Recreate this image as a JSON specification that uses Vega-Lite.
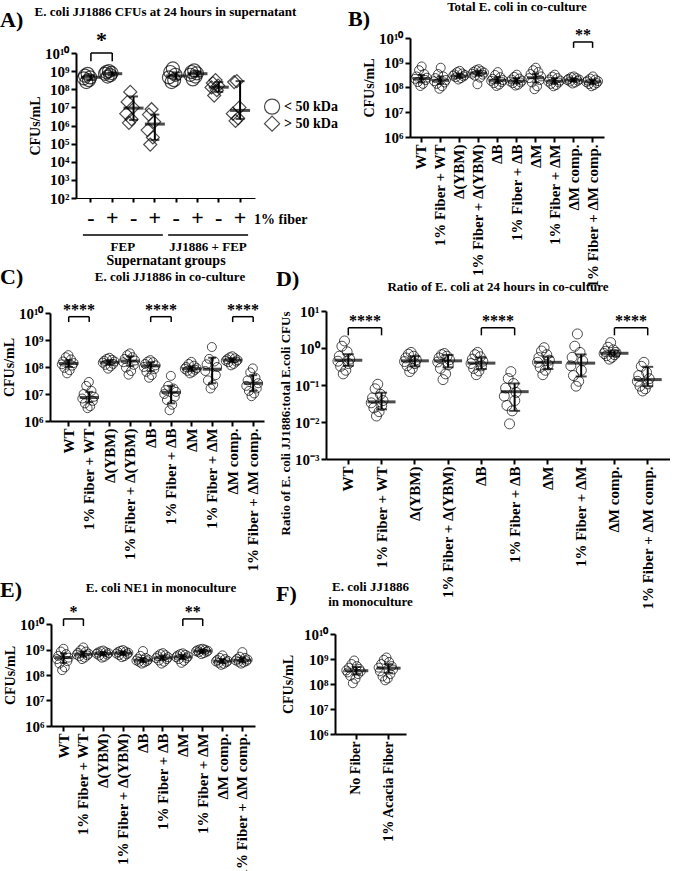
{
"$schema":"https://vega.github.io/schema/vega-lite/v6.json",
"background":"white",
"padding":{"left":0,"top":0,"right":0,"bottom":0},
"config":{
"font":"Liberation Serif",
"view":{"stroke":null},
"axis":{"labelFont":"Liberation Serif","labelFontWeight":"bold","labelFontSize":15,"labelColor":"#000","titleFont":"Liberation Serif","titleFontWeight":"bold","titleFontSize":14,"titleColor":"#000","domainColor":"#000","domainWidth":2,"tickColor":"#000","tickWidth":2,"tickSize":5,"grid":false,"labelPadding":2,"titlePadding":2},
"title":{"font":"Liberation Serif","fontWeight":"bold","fontSize":13,"color":"#000"},
"text":{"font":"Liberation Serif","fontWeight":"bold","color":"#000"}
},
"datasets":{
"A":[
{"c":"FEP, < 50 kDa, -","f":"< 50 kDa","r":3,"v":2.5e8},{"c":"FEP, < 50 kDa, -","f":"< 50 kDa","r":5,"v":3.2e8},{"c":"FEP, < 50 kDa, -","f":"< 50 kDa","r":1,"v":4.0e8},{"c":"FEP, < 50 kDa, -","f":"< 50 kDa","r":6,"v":4.5e8},{"c":"FEP, < 50 kDa, -","f":"< 50 kDa","r":2,"v":5.6e8},{"c":"FEP, < 50 kDa, -","f":"< 50 kDa","r":4,"v":7.1e8},
{"c":"FEP, < 50 kDa, +","f":"< 50 kDa","r":3,"v":5.0e8},{"c":"FEP, < 50 kDa, +","f":"< 50 kDa","r":5,"v":6.0e8},{"c":"FEP, < 50 kDa, +","f":"< 50 kDa","r":1,"v":7.1e8},{"c":"FEP, < 50 kDa, +","f":"< 50 kDa","r":6,"v":7.9e8},{"c":"FEP, < 50 kDa, +","f":"< 50 kDa","r":2,"v":8.9e8},{"c":"FEP, < 50 kDa, +","f":"< 50 kDa","r":4,"v":1.0e9},
{"c":"FEP, > 50 kDa, -","f":"> 50 kDa","r":3,"v":1.4e6},{"c":"FEP, > 50 kDa, -","f":"> 50 kDa","r":5,"v":2.2e6},{"c":"FEP, > 50 kDa, -","f":"> 50 kDa","r":1,"v":4.5e6},{"c":"FEP, > 50 kDa, -","f":"> 50 kDa","r":6,"v":1.0e7},{"c":"FEP, > 50 kDa, -","f":"> 50 kDa","r":2,"v":2.0e7},{"c":"FEP, > 50 kDa, -","f":"> 50 kDa","r":4,"v":7.1e7},
{"c":"FEP, > 50 kDa, +","f":"> 50 kDa","r":3,"v":8.9e4},{"c":"FEP, > 50 kDa, +","f":"> 50 kDa","r":5,"v":2.2e5},{"c":"FEP, > 50 kDa, +","f":"> 50 kDa","r":1,"v":5.6e5},{"c":"FEP, > 50 kDa, +","f":"> 50 kDa","r":6,"v":1.6e6},{"c":"FEP, > 50 kDa, +","f":"> 50 kDa","r":2,"v":4.0e6},{"c":"FEP, > 50 kDa, +","f":"> 50 kDa","r":4,"v":7.9e6},
{"c":"JJ1886 + FEP, < 50 kDa, -","f":"< 50 kDa","r":3,"v":2.5e8},{"c":"JJ1886 + FEP, < 50 kDa, -","f":"< 50 kDa","r":5,"v":3.2e8},{"c":"JJ1886 + FEP, < 50 kDa, -","f":"< 50 kDa","r":1,"v":4.5e8},{"c":"JJ1886 + FEP, < 50 kDa, -","f":"< 50 kDa","r":6,"v":6.3e8},{"c":"JJ1886 + FEP, < 50 kDa, -","f":"< 50 kDa","r":2,"v":8.9e8},{"c":"JJ1886 + FEP, < 50 kDa, -","f":"< 50 kDa","r":4,"v":1.4e9},
{"c":"JJ1886 + FEP, < 50 kDa, +","f":"< 50 kDa","r":3,"v":3.5e8},{"c":"JJ1886 + FEP, < 50 kDa, +","f":"< 50 kDa","r":5,"v":5.0e8},{"c":"JJ1886 + FEP, < 50 kDa, +","f":"< 50 kDa","r":1,"v":6.3e8},{"c":"JJ1886 + FEP, < 50 kDa, +","f":"< 50 kDa","r":6,"v":7.6e8},{"c":"JJ1886 + FEP, < 50 kDa, +","f":"< 50 kDa","r":2,"v":8.9e8},{"c":"JJ1886 + FEP, < 50 kDa, +","f":"< 50 kDa","r":4,"v":1.1e9},
{"c":"JJ1886 + FEP, > 50 kDa, -","f":"> 50 kDa","r":3,"v":4.5e7},{"c":"JJ1886 + FEP, > 50 kDa, -","f":"> 50 kDa","r":5,"v":8.9e7},{"c":"JJ1886 + FEP, > 50 kDa, -","f":"> 50 kDa","r":1,"v":1.26e8},{"c":"JJ1886 + FEP, > 50 kDa, -","f":"> 50 kDa","r":6,"v":1.6e8},{"c":"JJ1886 + FEP, > 50 kDa, -","f":"> 50 kDa","r":2,"v":2.2e8},{"c":"JJ1886 + FEP, > 50 kDa, -","f":"> 50 kDa","r":4,"v":3.2e8},
{"c":"JJ1886 + FEP, > 50 kDa, +","f":"> 50 kDa","r":3,"v":1.8e6},{"c":"JJ1886 + FEP, > 50 kDa, +","f":"> 50 kDa","r":5,"v":2.5e6},{"c":"JJ1886 + FEP, > 50 kDa, +","f":"> 50 kDa","r":1,"v":4.5e6},{"c":"JJ1886 + FEP, > 50 kDa, +","f":"> 50 kDa","r":6,"v":1.0e7},{"c":"JJ1886 + FEP, > 50 kDa, +","f":"> 50 kDa","r":2,"v":2.5e8},{"c":"JJ1886 + FEP, > 50 kDa, +","f":"> 50 kDa","r":4,"v":2.8e8}
],
"As":[
{"c":"FEP, < 50 kDa, -","m":4.6e8,"lo":3.2e8,"hi":6.0e8},
{"c":"FEP, < 50 kDa, +","m":7.2e8,"lo":5.8e8,"hi":8.6e8},
{"c":"FEP, > 50 kDa, -","m":9.1e6,"lo":2.0e6,"hi":4.0e7},
{"c":"FEP, > 50 kDa, +","m":1.2e6,"lo":1.6e5,"hi":4.0e6},
{"c":"JJ1886 + FEP, < 50 kDa, -","m":5.4e8,"lo":3.5e8,"hi":8.5e8},
{"c":"JJ1886 + FEP, < 50 kDa, +","m":7.2e8,"lo":5.0e8,"hi":9.5e8},
{"c":"JJ1886 + FEP, > 50 kDa, -","m":1.3e8,"lo":7.1e7,"hi":2.5e8},
{"c":"JJ1886 + FEP, > 50 kDa, +","m":6.8e6,"lo":2.3e6,"hi":2.8e8}
],
"Ab":[{"a":"FEP, < 50 kDa, -","b":"FEP, < 50 kDa, +","s":"*"}],
"Ag":[{"a":"FEP, < 50 kDa, -","b":"FEP, > 50 kDa, +","m":"FEP, < 50 kDa, +","t":"FEP"},{"a":"JJ1886 + FEP, < 50 kDa, -","b":"JJ1886 + FEP, > 50 kDa, +","m":"JJ1886 + FEP, < 50 kDa, +","t":"JJ1886 + FEP"}],
"Af":[{"t":"1% fiber"}],
"Al1":[{"t":"< 50 kDa"}],
"Al2":[{"t":"> 50 kDa"}],
"B":[
{"g":"WT","r":5,"v":1.15e8},{"g":"WT","r":7,"v":1.4e8},{"g":"WT","r":3,"v":1.66e8},{"g":"WT","r":9,"v":2.0e8},{"g":"WT","r":1,"v":2.24e8},{"g":"WT","r":10,"v":2.5e8},{"g":"WT","r":2,"v":2.8e8},{"g":"WT","r":8,"v":3.5e8},{"g":"WT","r":4,"v":5.0e8},{"g":"WT","r":6,"v":7.1e8},
{"g":"1% Fiber + WT","r":5,"v":8.9e7},{"g":"1% Fiber + WT","r":7,"v":1.12e8},{"g":"1% Fiber + WT","r":3,"v":1.4e8},{"g":"1% Fiber + WT","r":9,"v":1.6e8},{"g":"1% Fiber + WT","r":1,"v":1.8e8},{"g":"1% Fiber + WT","r":10,"v":2.0e8},{"g":"1% Fiber + WT","r":2,"v":2.4e8},{"g":"1% Fiber + WT","r":8,"v":2.8e8},{"g":"1% Fiber + WT","r":4,"v":3.5e8},{"g":"1% Fiber + WT","r":6,"v":6.3e8},
{"g":"Δ(YBM)","r":5,"v":2.1e8},{"g":"Δ(YBM)","r":7,"v":2.4e8},{"g":"Δ(YBM)","r":3,"v":2.6e8},{"g":"Δ(YBM)","r":9,"v":2.8e8},{"g":"Δ(YBM)","r":1,"v":3.0e8},{"g":"Δ(YBM)","r":10,"v":3.2e8},{"g":"Δ(YBM)","r":2,"v":3.4e8},{"g":"Δ(YBM)","r":8,"v":3.7e8},{"g":"Δ(YBM)","r":4,"v":4.2e8},{"g":"Δ(YBM)","r":6,"v":4.7e8},
{"g":"1% Fiber + Δ(YBM)","r":5,"v":1.35e8},{"g":"1% Fiber + Δ(YBM)","r":7,"v":2.5e8},{"g":"1% Fiber + Δ(YBM)","r":3,"v":3.0e8},{"g":"1% Fiber + Δ(YBM)","r":9,"v":3.3e8},{"g":"1% Fiber + Δ(YBM)","r":1,"v":3.6e8},{"g":"1% Fiber + Δ(YBM)","r":10,"v":4.0e8},{"g":"1% Fiber + Δ(YBM)","r":2,"v":4.3e8},{"g":"1% Fiber + Δ(YBM)","r":8,"v":4.6e8},{"g":"1% Fiber + Δ(YBM)","r":4,"v":5.0e8},{"g":"1% Fiber + Δ(YBM)","r":6,"v":5.5e8},
{"g":"ΔB","r":5,"v":1.15e8},{"g":"ΔB","r":7,"v":1.3e8},{"g":"ΔB","r":3,"v":1.5e8},{"g":"ΔB","r":9,"v":1.66e8},{"g":"ΔB","r":1,"v":1.86e8},{"g":"ΔB","r":10,"v":2.0e8},{"g":"ΔB","r":2,"v":2.24e8},{"g":"ΔB","r":8,"v":2.6e8},{"g":"ΔB","r":4,"v":3.2e8},{"g":"ΔB","r":6,"v":4.2e8},
{"g":"1% Fiber + ΔB","r":5,"v":1.2e8},{"g":"1% Fiber + ΔB","r":7,"v":1.3e8},{"g":"1% Fiber + ΔB","r":3,"v":1.5e8},{"g":"1% Fiber + ΔB","r":9,"v":1.6e8},{"g":"1% Fiber + ΔB","r":1,"v":1.74e8},{"g":"1% Fiber + ΔB","r":10,"v":1.9e8},{"g":"1% Fiber + ΔB","r":2,"v":2.1e8},{"g":"1% Fiber + ΔB","r":8,"v":2.3e8},{"g":"1% Fiber + ΔB","r":4,"v":2.7e8},{"g":"1% Fiber + ΔB","r":6,"v":3.3e8},
{"g":"ΔM","r":5,"v":8.5e7},{"g":"ΔM","r":7,"v":1.12e8},{"g":"ΔM","r":3,"v":1.6e8},{"g":"ΔM","r":9,"v":2.0e8},{"g":"ΔM","r":1,"v":2.4e8},{"g":"ΔM","r":10,"v":2.8e8},{"g":"ΔM","r":2,"v":3.5e8},{"g":"ΔM","r":8,"v":4.2e8},{"g":"ΔM","r":4,"v":5.0e8},{"g":"ΔM","r":6,"v":6.3e8},
{"g":"1% Fiber + ΔM","r":5,"v":1.12e8},{"g":"1% Fiber + ΔM","r":7,"v":1.26e8},{"g":"1% Fiber + ΔM","r":3,"v":1.4e8},{"g":"1% Fiber + ΔM","r":9,"v":1.6e8},{"g":"1% Fiber + ΔM","r":1,"v":1.74e8},{"g":"1% Fiber + ΔM","r":10,"v":1.9e8},{"g":"1% Fiber + ΔM","r":2,"v":2.1e8},{"g":"1% Fiber + ΔM","r":8,"v":2.4e8},{"g":"1% Fiber + ΔM","r":4,"v":2.75e8},{"g":"1% Fiber + ΔM","r":6,"v":3.3e8},
{"g":"ΔM comp.","r":5,"v":1.45e8},{"g":"ΔM comp.","r":7,"v":1.6e8},{"g":"ΔM comp.","r":3,"v":1.74e8},{"g":"ΔM comp.","r":9,"v":1.86e8},{"g":"ΔM comp.","r":1,"v":2.0e8},{"g":"ΔM comp.","r":10,"v":2.1e8},{"g":"ΔM comp.","r":2,"v":2.24e8},{"g":"ΔM comp.","r":8,"v":2.4e8},{"g":"ΔM comp.","r":4,"v":2.6e8},{"g":"ΔM comp.","r":6,"v":2.8e8},
{"g":"1% Fiber + ΔM comp.","r":5,"v":1.12e8},{"g":"1% Fiber + ΔM comp.","r":7,"v":1.26e8},{"g":"1% Fiber + ΔM comp.","r":3,"v":1.38e8},{"g":"1% Fiber + ΔM comp.","r":9,"v":1.5e8},{"g":"1% Fiber + ΔM comp.","r":1,"v":1.66e8},{"g":"1% Fiber + ΔM comp.","r":10,"v":1.8e8},{"g":"1% Fiber + ΔM comp.","r":2,"v":1.9e8},{"g":"1% Fiber + ΔM comp.","r":8,"v":2.1e8},{"g":"1% Fiber + ΔM comp.","r":4,"v":2.3e8},{"g":"1% Fiber + ΔM comp.","r":6,"v":2.8e8}
],
"Bs":[
{"g":"WT","m":2.3e8,"lo":1.6e8,"hi":3.2e8},{"g":"1% Fiber + WT","m":1.95e8,"lo":1.4e8,"hi":2.8e8},{"g":"Δ(YBM)","m":2.9e8,"lo":2.4e8,"hi":3.6e8},{"g":"1% Fiber + Δ(YBM)","m":3.8e8,"lo":3.0e8,"hi":4.8e8},{"g":"ΔB","m":1.95e8,"lo":1.5e8,"hi":2.6e8},{"g":"1% Fiber + ΔB","m":1.8e8,"lo":1.45e8,"hi":2.4e8},{"g":"ΔM","m":2.5e8,"lo":1.6e8,"hi":3.6e8},{"g":"1% Fiber + ΔM","m":1.8e8,"lo":1.4e8,"hi":2.4e8},{"g":"ΔM comp.","m":2.0e8,"lo":1.75e8,"hi":2.3e8},{"g":"1% Fiber + ΔM comp.","m":1.7e8,"lo":1.35e8,"hi":2.1e8}
],
"Bb":[{"a":"ΔM comp.","b":"1% Fiber + ΔM comp.","s":"**"}],
"C":[
{"g":"WT","r":5,"v":5.8e7},{"g":"WT","r":7,"v":7.6e7},{"g":"WT","r":3,"v":9.3e7},{"g":"WT","r":9,"v":1.12e8},{"g":"WT","r":1,"v":1.26e8},{"g":"WT","r":10,"v":1.4e8},{"g":"WT","r":2,"v":1.6e8},{"g":"WT","r":8,"v":1.9e8},{"g":"WT","r":4,"v":2.3e8},{"g":"WT","r":6,"v":2.75e8},
{"g":"1% Fiber + WT","r":5,"v":3.0e6},{"g":"1% Fiber + WT","r":7,"v":3.5e6},{"g":"1% Fiber + WT","r":3,"v":4.5e6},{"g":"1% Fiber + WT","r":9,"v":5.6e6},{"g":"1% Fiber + WT","r":1,"v":6.8e6},{"g":"1% Fiber + WT","r":10,"v":7.9e6},{"g":"1% Fiber + WT","r":2,"v":1.0e7},{"g":"1% Fiber + WT","r":8,"v":1.3e7},{"g":"1% Fiber + WT","r":4,"v":2.0e7},{"g":"1% Fiber + WT","r":6,"v":2.8e7},
{"g":"Δ(YBM)","r":5,"v":8.7e7},{"g":"Δ(YBM)","r":7,"v":1.05e8},{"g":"Δ(YBM)","r":3,"v":1.2e8},{"g":"Δ(YBM)","r":9,"v":1.3e8},{"g":"Δ(YBM)","r":1,"v":1.45e8},{"g":"Δ(YBM)","r":10,"v":1.6e8},{"g":"Δ(YBM)","r":2,"v":1.7e8},{"g":"Δ(YBM)","r":8,"v":1.86e8},{"g":"Δ(YBM)","r":4,"v":2.0e8},{"g":"Δ(YBM)","r":6,"v":2.2e8},
{"g":"1% Fiber + Δ(YBM)","r":5,"v":5.2e7},{"g":"1% Fiber + Δ(YBM)","r":7,"v":7.1e7},{"g":"1% Fiber + Δ(YBM)","r":3,"v":9.5e7},{"g":"1% Fiber + Δ(YBM)","r":9,"v":1.2e8},{"g":"1% Fiber + Δ(YBM)","r":1,"v":1.5e8},{"g":"1% Fiber + Δ(YBM)","r":10,"v":1.74e8},{"g":"1% Fiber + Δ(YBM)","r":2,"v":2.0e8},{"g":"1% Fiber + Δ(YBM)","r":8,"v":2.3e8},{"g":"1% Fiber + Δ(YBM)","r":4,"v":2.75e8},{"g":"1% Fiber + Δ(YBM)","r":6,"v":3.2e8},
{"g":"ΔB","r":5,"v":4.0e7},{"g":"ΔB","r":7,"v":5.0e7},{"g":"ΔB","r":3,"v":6.6e7},{"g":"ΔB","r":9,"v":8.3e7},{"g":"ΔB","r":1,"v":1.0e8},{"g":"ΔB","r":10,"v":1.15e8},{"g":"ΔB","r":2,"v":1.3e8},{"g":"ΔB","r":8,"v":1.5e8},{"g":"ΔB","r":4,"v":1.6e8},{"g":"ΔB","r":6,"v":1.8e8},
{"g":"1% Fiber + ΔB","r":5,"v":2.5e6},{"g":"1% Fiber + ΔB","r":7,"v":4.0e6},{"g":"1% Fiber + ΔB","r":3,"v":6.0e6},{"g":"1% Fiber + ΔB","r":9,"v":7.9e6},{"g":"1% Fiber + ΔB","r":1,"v":1.0e7},{"g":"1% Fiber + ΔB","r":10,"v":1.2e7},{"g":"1% Fiber + ΔB","r":2,"v":1.4e7},{"g":"1% Fiber + ΔB","r":8,"v":1.6e7},{"g":"1% Fiber + ΔB","r":4,"v":2.0e7},{"g":"1% Fiber + ΔB","r":6,"v":4.7e7},
{"g":"ΔM","r":5,"v":5.8e7},{"g":"ΔM","r":7,"v":6.6e7},{"g":"ΔM","r":3,"v":7.2e7},{"g":"ΔM","r":9,"v":7.9e7},{"g":"ΔM","r":1,"v":8.5e7},{"g":"ΔM","r":10,"v":9.1e7},{"g":"ΔM","r":2,"v":1.0e8},{"g":"ΔM","r":8,"v":1.12e8},{"g":"ΔM","r":4,"v":1.3e8},{"g":"ΔM","r":6,"v":1.55e8},
{"g":"1% Fiber + ΔM","r":5,"v":1.6e7},{"g":"1% Fiber + ΔM","r":7,"v":2.2e7},{"g":"1% Fiber + ΔM","r":3,"v":3.2e7},{"g":"1% Fiber + ΔM","r":9,"v":5.0e7},{"g":"1% Fiber + ΔM","r":1,"v":7.1e7},{"g":"1% Fiber + ΔM","r":10,"v":1.0e8},{"g":"1% Fiber + ΔM","r":2,"v":1.26e8},{"g":"1% Fiber + ΔM","r":8,"v":1.6e8},{"g":"1% Fiber + ΔM","r":4,"v":2.0e8},{"g":"1% Fiber + ΔM","r":6,"v":5.5e8},
{"g":"ΔM comp.","r":5,"v":1.15e8},{"g":"ΔM comp.","r":7,"v":1.3e8},{"g":"ΔM comp.","r":3,"v":1.5e8},{"g":"ΔM comp.","r":9,"v":1.6e8},{"g":"ΔM comp.","r":1,"v":1.7e8},{"g":"ΔM comp.","r":10,"v":1.8e8},{"g":"ΔM comp.","r":2,"v":1.95e8},{"g":"ΔM comp.","r":8,"v":2.1e8},{"g":"ΔM comp.","r":4,"v":2.3e8},{"g":"ΔM comp.","r":6,"v":2.5e8},
{"g":"1% Fiber + ΔM comp.","r":5,"v":8.3e6},{"g":"1% Fiber + ΔM comp.","r":7,"v":1.05e7},{"g":"1% Fiber + ΔM comp.","r":3,"v":1.3e7},{"g":"1% Fiber + ΔM comp.","r":9,"v":1.6e7},{"g":"1% Fiber + ΔM comp.","r":1,"v":2.0e7},{"g":"1% Fiber + ΔM comp.","r":10,"v":2.5e7},{"g":"1% Fiber + ΔM comp.","r":2,"v":3.2e7},{"g":"1% Fiber + ΔM comp.","r":8,"v":4.0e7},{"g":"1% Fiber + ΔM comp.","r":4,"v":6.3e7},{"g":"1% Fiber + ΔM comp.","r":6,"v":8.9e7}
],
"Cs":[
{"g":"WT","m":1.35e8,"lo":1.0e8,"hi":1.8e8},{"g":"1% Fiber + WT","m":7.4e6,"lo":5.0e6,"hi":1.2e7},{"g":"Δ(YBM)","m":1.5e8,"lo":1.2e8,"hi":1.8e8},{"g":"1% Fiber + Δ(YBM)","m":1.66e8,"lo":1.1e8,"hi":2.5e8},{"g":"ΔB","m":1.1e8,"lo":7.0e7,"hi":1.5e8},{"g":"1% Fiber + ΔB","m":1.15e7,"lo":4.5e6,"hi":2.0e7},{"g":"ΔM","m":8.7e7,"lo":7.0e7,"hi":1.05e8},{"g":"1% Fiber + ΔM","m":8.3e7,"lo":2.5e7,"hi":2.2e8},{"g":"ΔM comp.","m":1.8e8,"lo":1.5e8,"hi":2.1e8},{"g":"1% Fiber + ΔM comp.","m":2.5e7,"lo":1.3e7,"hi":5.0e7}
],
"Cb":[{"a":"WT","b":"1% Fiber + WT","s":"****"},{"a":"ΔB","b":"1% Fiber + ΔB","s":"****"},{"a":"ΔM comp.","b":"1% Fiber + ΔM comp.","s":"****"}],
"D":[
{"g":"WT","r":5,"v":0.2},{"g":"WT","r":7,"v":0.25},{"g":"WT","r":3,"v":0.32},{"g":"WT","r":9,"v":0.38},{"g":"WT","r":1,"v":0.44},{"g":"WT","r":10,"v":0.5},{"g":"WT","r":2,"v":0.6},{"g":"WT","r":8,"v":0.79},{"g":"WT","r":4,"v":1.12},{"g":"WT","r":6,"v":1.55},
{"g":"1% Fiber + WT","r":5,"v":0.0145},{"g":"1% Fiber + WT","r":7,"v":0.019},{"g":"1% Fiber + WT","r":3,"v":0.024},{"g":"1% Fiber + WT","r":9,"v":0.028},{"g":"1% Fiber + WT","r":1,"v":0.033},{"g":"1% Fiber + WT","r":10,"v":0.038},{"g":"1% Fiber + WT","r":2,"v":0.045},{"g":"1% Fiber + WT","r":8,"v":0.056},{"g":"1% Fiber + WT","r":4,"v":0.079},{"g":"1% Fiber + WT","r":6,"v":0.105},
{"g":"Δ(YBM)","r":5,"v":0.23},{"g":"Δ(YBM)","r":7,"v":0.28},{"g":"Δ(YBM)","r":3,"v":0.33},{"g":"Δ(YBM)","r":9,"v":0.38},{"g":"Δ(YBM)","r":1,"v":0.43},{"g":"Δ(YBM)","r":10,"v":0.48},{"g":"Δ(YBM)","r":2,"v":0.54},{"g":"Δ(YBM)","r":8,"v":0.6},{"g":"Δ(YBM)","r":4,"v":0.68},{"g":"Δ(YBM)","r":6,"v":0.76},
{"g":"1% Fiber + Δ(YBM)","r":5,"v":0.14},{"g":"1% Fiber + Δ(YBM)","r":7,"v":0.2},{"g":"1% Fiber + Δ(YBM)","r":3,"v":0.28},{"g":"1% Fiber + Δ(YBM)","r":9,"v":0.35},{"g":"1% Fiber + Δ(YBM)","r":1,"v":0.42},{"g":"1% Fiber + Δ(YBM)","r":10,"v":0.48},{"g":"1% Fiber + Δ(YBM)","r":2,"v":0.54},{"g":"1% Fiber + Δ(YBM)","r":8,"v":0.6},{"g":"1% Fiber + Δ(YBM)","r":4,"v":0.66},{"g":"1% Fiber + Δ(YBM)","r":6,"v":0.71},
{"g":"ΔB","r":5,"v":0.19},{"g":"ΔB","r":7,"v":0.24},{"g":"ΔB","r":3,"v":0.28},{"g":"ΔB","r":9,"v":0.33},{"g":"ΔB","r":1,"v":0.38},{"g":"ΔB","r":10,"v":0.44},{"g":"ΔB","r":2,"v":0.5},{"g":"ΔB","r":8,"v":0.58},{"g":"ΔB","r":4,"v":0.66},{"g":"ΔB","r":6,"v":0.76},
{"g":"1% Fiber + ΔB","r":5,"v":0.0089},{"g":"1% Fiber + ΔB","r":7,"v":0.02},{"g":"1% Fiber + ΔB","r":3,"v":0.028},{"g":"1% Fiber + ΔB","r":9,"v":0.038},{"g":"1% Fiber + ΔB","r":1,"v":0.05},{"g":"1% Fiber + ΔB","r":10,"v":0.063},{"g":"1% Fiber + ΔB","r":2,"v":0.083},{"g":"1% Fiber + ΔB","r":8,"v":0.11},{"g":"1% Fiber + ΔB","r":4,"v":0.15},{"g":"1% Fiber + ΔB","r":6,"v":0.23},
{"g":"ΔM","r":5,"v":0.19},{"g":"ΔM","r":7,"v":0.25},{"g":"ΔM","r":3,"v":0.3},{"g":"ΔM","r":9,"v":0.35},{"g":"ΔM","r":1,"v":0.41},{"g":"ΔM","r":10,"v":0.47},{"g":"ΔM","r":2,"v":0.55},{"g":"ΔM","r":8,"v":0.66},{"g":"ΔM","r":4,"v":0.83},{"g":"ΔM","r":6,"v":1.02},
{"g":"1% Fiber + ΔM","r":5,"v":0.093},{"g":"1% Fiber + ΔM","r":7,"v":0.126},{"g":"1% Fiber + ΔM","r":3,"v":0.18},{"g":"1% Fiber + ΔM","r":9,"v":0.25},{"g":"1% Fiber + ΔM","r":1,"v":0.33},{"g":"1% Fiber + ΔM","r":10,"v":0.45},{"g":"1% Fiber + ΔM","r":2,"v":0.56},{"g":"1% Fiber + ΔM","r":8,"v":0.76},{"g":"1% Fiber + ΔM","r":4,"v":1.12},{"g":"1% Fiber + ΔM","r":6,"v":2.4},
{"g":"ΔM comp.","r":5,"v":0.5},{"g":"ΔM comp.","r":7,"v":0.56},{"g":"ΔM comp.","r":3,"v":0.62},{"g":"ΔM comp.","r":9,"v":0.66},{"g":"ΔM comp.","r":1,"v":0.71},{"g":"ΔM comp.","r":10,"v":0.76},{"g":"ΔM comp.","r":2,"v":0.81},{"g":"ΔM comp.","r":8,"v":0.89},{"g":"ΔM comp.","r":4,"v":1.05},{"g":"ΔM comp.","r":6,"v":1.4},
{"g":"1% Fiber + ΔM comp.","r":5,"v":0.069},{"g":"1% Fiber + ΔM comp.","r":7,"v":0.079},{"g":"1% Fiber + ΔM comp.","r":3,"v":0.093},{"g":"1% Fiber + ΔM comp.","r":9,"v":0.107},{"g":"1% Fiber + ΔM comp.","r":1,"v":0.126},{"g":"1% Fiber + ΔM comp.","r":10,"v":0.148},{"g":"1% Fiber + ΔM comp.","r":2,"v":0.18},{"g":"1% Fiber + ΔM comp.","r":8,"v":0.22},{"g":"1% Fiber + ΔM comp.","r":4,"v":0.32},{"g":"1% Fiber + ΔM comp.","r":6,"v":0.41}
],
"Ds":[
{"g":"WT","m":0.47,"lo":0.33,"hi":0.68},{"g":"1% Fiber + WT","m":0.035,"lo":0.022,"hi":0.062},{"g":"Δ(YBM)","m":0.45,"lo":0.32,"hi":0.6},{"g":"1% Fiber + Δ(YBM)","m":0.45,"lo":0.3,"hi":0.65},{"g":"ΔB","m":0.39,"lo":0.27,"hi":0.55},{"g":"1% Fiber + ΔB","m":0.066,"lo":0.02,"hi":0.11},{"g":"ΔM","m":0.41,"lo":0.27,"hi":0.58},{"g":"1% Fiber + ΔM","m":0.39,"lo":0.17,"hi":0.67},{"g":"ΔM comp.","m":0.72,"lo":0.6,"hi":0.85},{"g":"1% Fiber + ΔM comp.","m":0.14,"lo":0.093,"hi":0.31}
],
"Db":[{"a":"WT","b":"1% Fiber + WT","s":"****"},{"a":"ΔB","b":"1% Fiber + ΔB","s":"****"},{"a":"ΔM comp.","b":"1% Fiber + ΔM comp.","s":"****"}],
"E":[
{"g":"WT","r":5,"v":1.55e8},{"g":"WT","r":7,"v":2.0e8},{"g":"WT","r":3,"v":2.8e8},{"g":"WT","r":9,"v":3.5e8},{"g":"WT","r":1,"v":4.2e8},{"g":"WT","r":10,"v":4.8e8},{"g":"WT","r":2,"v":5.6e8},{"g":"WT","r":8,"v":6.6e8},{"g":"WT","r":4,"v":8.3e8},{"g":"WT","r":6,"v":1.07e9},
{"g":"1% Fiber + WT","r":5,"v":4.2e8},{"g":"1% Fiber + WT","r":7,"v":4.8e8},{"g":"1% Fiber + WT","r":3,"v":5.4e8},{"g":"1% Fiber + WT","r":9,"v":5.9e8},{"g":"1% Fiber + WT","r":1,"v":6.3e8},{"g":"1% Fiber + WT","r":10,"v":6.8e8},{"g":"1% Fiber + WT","r":2,"v":7.4e8},{"g":"1% Fiber + WT","r":8,"v":8.3e8},{"g":"1% Fiber + WT","r":4,"v":9.5e8},{"g":"1% Fiber + WT","r":6,"v":1.2e9},
{"g":"Δ(YBM)","r":5,"v":4.8e8},{"g":"Δ(YBM)","r":7,"v":5.2e8},{"g":"Δ(YBM)","r":3,"v":5.8e8},{"g":"Δ(YBM)","r":9,"v":6.3e8},{"g":"Δ(YBM)","r":1,"v":6.8e8},{"g":"Δ(YBM)","r":10,"v":7.2e8},{"g":"Δ(YBM)","r":2,"v":7.6e8},{"g":"Δ(YBM)","r":8,"v":7.9e8},{"g":"Δ(YBM)","r":4,"v":8.5e8},{"g":"Δ(YBM)","r":6,"v":9.1e8},
{"g":"1% Fiber + Δ(YBM)","r":5,"v":5.0e8},{"g":"1% Fiber + Δ(YBM)","r":7,"v":5.5e8},{"g":"1% Fiber + Δ(YBM)","r":3,"v":6.0e8},{"g":"1% Fiber + Δ(YBM)","r":9,"v":6.5e8},{"g":"1% Fiber + Δ(YBM)","r":1,"v":6.9e8},{"g":"1% Fiber + Δ(YBM)","r":10,"v":7.4e8},{"g":"1% Fiber + Δ(YBM)","r":2,"v":7.9e8},{"g":"1% Fiber + Δ(YBM)","r":8,"v":8.3e8},{"g":"1% Fiber + Δ(YBM)","r":4,"v":8.9e8},{"g":"1% Fiber + Δ(YBM)","r":6,"v":9.5e8},
{"g":"ΔB","r":5,"v":2.8e8},{"g":"ΔB","r":7,"v":3.1e8},{"g":"ΔB","r":3,"v":3.3e8},{"g":"ΔB","r":9,"v":3.5e8},{"g":"ΔB","r":1,"v":3.7e8},{"g":"ΔB","r":10,"v":4.0e8},{"g":"ΔB","r":2,"v":4.3e8},{"g":"ΔB","r":8,"v":4.7e8},{"g":"ΔB","r":4,"v":5.6e8},{"g":"ΔB","r":6,"v":8.7e8},
{"g":"1% Fiber + ΔB","r":5,"v":2.8e8},{"g":"1% Fiber + ΔB","r":7,"v":3.3e8},{"g":"1% Fiber + ΔB","r":3,"v":3.7e8},{"g":"1% Fiber + ΔB","r":9,"v":4.2e8},{"g":"1% Fiber + ΔB","r":1,"v":4.6e8},{"g":"1% Fiber + ΔB","r":10,"v":5.0e8},{"g":"1% Fiber + ΔB","r":2,"v":5.5e8},{"g":"1% Fiber + ΔB","r":8,"v":6.0e8},{"g":"1% Fiber + ΔB","r":4,"v":6.6e8},{"g":"1% Fiber + ΔB","r":6,"v":7.2e8},
{"g":"ΔM","r":5,"v":3.0e8},{"g":"ΔM","r":7,"v":3.6e8},{"g":"ΔM","r":3,"v":4.2e8},{"g":"ΔM","r":9,"v":4.6e8},{"g":"ΔM","r":1,"v":5.0e8},{"g":"ΔM","r":10,"v":5.4e8},{"g":"ΔM","r":2,"v":5.8e8},{"g":"ΔM","r":8,"v":6.2e8},{"g":"ΔM","r":4,"v":6.6e8},{"g":"ΔM","r":6,"v":7.1e8},
{"g":"1% Fiber + ΔM","r":5,"v":6.6e8},{"g":"1% Fiber + ΔM","r":7,"v":7.2e8},{"g":"1% Fiber + ΔM","r":3,"v":7.8e8},{"g":"1% Fiber + ΔM","r":9,"v":8.1e8},{"g":"1% Fiber + ΔM","r":1,"v":8.5e8},{"g":"1% Fiber + ΔM","r":10,"v":8.9e8},{"g":"1% Fiber + ΔM","r":2,"v":9.3e8},{"g":"1% Fiber + ΔM","r":8,"v":9.8e8},{"g":"1% Fiber + ΔM","r":4,"v":1.02e9},{"g":"1% Fiber + ΔM","r":6,"v":1.07e9},
{"g":"ΔM comp.","r":5,"v":2.5e8},{"g":"ΔM comp.","r":7,"v":2.75e8},{"g":"ΔM comp.","r":3,"v":3.0e8},{"g":"ΔM comp.","r":9,"v":3.2e8},{"g":"ΔM comp.","r":1,"v":3.4e8},{"g":"ΔM comp.","r":10,"v":3.6e8},{"g":"ΔM comp.","r":2,"v":3.9e8},{"g":"ΔM comp.","r":8,"v":4.2e8},{"g":"ΔM comp.","r":4,"v":4.7e8},{"g":"ΔM comp.","r":6,"v":5.9e8},
{"g":"1% Fiber + ΔM comp.","r":5,"v":2.8e8},{"g":"1% Fiber + ΔM comp.","r":7,"v":3.1e8},{"g":"1% Fiber + ΔM comp.","r":3,"v":3.3e8},{"g":"1% Fiber + ΔM comp.","r":9,"v":3.5e8},{"g":"1% Fiber + ΔM comp.","r":1,"v":3.7e8},{"g":"1% Fiber + ΔM comp.","r":10,"v":4.0e8},{"g":"1% Fiber + ΔM comp.","r":2,"v":4.3e8},{"g":"1% Fiber + ΔM comp.","r":8,"v":4.7e8},{"g":"1% Fiber + ΔM comp.","r":4,"v":5.2e8},{"g":"1% Fiber + ΔM comp.","r":6,"v":7.9e8}
],
"Es":[
{"g":"WT","m":4.8e8,"lo":3.0e8,"hi":7.0e8},{"g":"1% Fiber + WT","m":6.5e8,"lo":5.2e8,"hi":8.3e8},{"g":"Δ(YBM)","m":6.9e8,"lo":6.0e8,"hi":8.0e8},{"g":"1% Fiber + Δ(YBM)","m":7.2e8,"lo":6.2e8,"hi":8.4e8},{"g":"ΔB","m":3.8e8,"lo":3.2e8,"hi":4.6e8},{"g":"1% Fiber + ΔB","m":4.7e8,"lo":3.8e8,"hi":5.8e8},{"g":"ΔM","m":5.1e8,"lo":4.2e8,"hi":6.2e8},{"g":"1% Fiber + ΔM","m":8.7e8,"lo":7.6e8,"hi":9.8e8},{"g":"ΔM comp.","m":3.5e8,"lo":2.9e8,"hi":4.2e8},{"g":"1% Fiber + ΔM comp.","m":3.8e8,"lo":3.1e8,"hi":4.7e8}
],
"Eb":[{"a":"WT","b":"1% Fiber + WT","s":"*"},{"a":"ΔM","b":"1% Fiber + ΔM","s":"**"}],
"F":[
{"g":"No Fiber","r":6,"v":1.07e8},{"g":"No Fiber","r":8,"v":1.6e8},{"g":"No Fiber","r":4,"v":2.1e8},{"g":"No Fiber","r":10,"v":2.5e8},{"g":"No Fiber","r":2,"v":2.9e8},{"g":"No Fiber","r":12,"v":3.2e8},{"g":"No Fiber","r":1,"v":3.5e8},{"g":"No Fiber","r":11,"v":4.0e8},{"g":"No Fiber","r":3,"v":4.5e8},{"g":"No Fiber","r":9,"v":5.2e8},{"g":"No Fiber","r":5,"v":6.3e8},{"g":"No Fiber","r":7,"v":8.7e8},
{"g":"1% Acacia Fiber","r":6,"v":1.4e8},{"g":"1% Acacia Fiber","r":8,"v":1.66e8},{"g":"1% Acacia Fiber","r":4,"v":2.0e8},{"g":"1% Acacia Fiber","r":10,"v":2.5e8},{"g":"1% Acacia Fiber","r":2,"v":3.2e8},{"g":"1% Acacia Fiber","r":12,"v":3.8e8},{"g":"1% Acacia Fiber","r":1,"v":4.5e8},{"g":"1% Acacia Fiber","r":11,"v":5.2e8},{"g":"1% Acacia Fiber","r":3,"v":6.3e8},{"g":"1% Acacia Fiber","r":9,"v":7.6e8},{"g":"1% Acacia Fiber","r":5,"v":9.3e8},{"g":"1% Acacia Fiber","r":7,"v":1.15e9}
],
"Fs":[{"g":"No Fiber","m":3.4e8,"lo":2.4e8,"hi":4.8e8},{"g":"1% Acacia Fiber","m":4.3e8,"lo":2.8e8,"hi":6.2e8}],
"pad":[{}]
},
"vconcat":[
{"hconcat":[
{"vconcat":[{"width":1,"height":1,"data":{"name":"pad"},"mark":"text","encoding":{}},{"hconcat":[{"width":1,"height":1,"data":{"name":"pad"},"mark":"text","encoding":{}},{
"width":179,"height":145,
"title":{"text":"E. coli JJ1886 CFUs at 24 hours in supernatant","offset":10},
"layer":[
{"data":{"name":"A"},"mark":{"type":"point","filled":false,"color":"black","strokeWidth":1.2,"size":170},
"encoding":{
"x":{"field":"c","type":"nominal","title":"Supernatant groups","scale":{"domain":["FEP, < 50 kDa, -","FEP, < 50 kDa, +","FEP, > 50 kDa, -","FEP, > 50 kDa, +","JJ1886 + FEP, < 50 kDa, -","JJ1886 + FEP, < 50 kDa, +","JJ1886 + FEP, > 50 kDa, -","JJ1886 + FEP, > 50 kDa, +"],"paddingInner":0.2,"paddingOuter":0.3},"axis":{"labelExpr":"slice(datum.label, -1)","labelAngle":0,"labelFontSize":22,"labelPadding":5,"domainWidth":1,"tickSize":4,"titlePadding":25,"titleFontSize":14}},
"xOffset":{"field":"r","type":"nominal","scale":{"paddingOuter":1.5}},
"y":{"field":"v","type":"quantitative","title":"CFUs/mL","scale":{"type":"log","domain":[100,1e10]},"axis":{"values":[100,1e3,1e4,1e5,1e6,1e7,1e8,1e9,1e10],"labelExpr":"'10' + replace(replace(replace(replace(replace(replace(replace(replace(replace(replace(replace('' + round(log(datum.value) / LN10), '-', '⁻'), '0', '⁰'), '1', '¹'), '2', '²'), '3', '³'), '4', '⁴'), '5', '⁵'), '6', '⁶'), '7', '⁷'), '8', '⁸'), '9', '⁹')"}},
"shape":{"field":"f","type":"nominal","scale":{"domain":["< 50 kDa","> 50 kDa"],"range":["circle","diamond"]},"legend":null}}},
{"data":{"name":"As"},"mark":{"type":"rule","color":"black","strokeWidth":2},"encoding":{"x":{"field":"c","type":"nominal","title":"Supernatant groups"},"y":{"field":"lo","type":"quantitative","title":"CFUs/mL"},"y2":{"field":"hi"}}},
{"data":{"name":"As"},"mark":{"type":"tick","color":"black","thickness":3,"size":20},"encoding":{"x":{"field":"c","type":"nominal","title":"Supernatant groups"},"y":{"field":"m","type":"quantitative","title":"CFUs/mL"}}},
{"data":{"name":"As"},"mark":{"type":"tick","color":"black","thickness":2,"size":9},"encoding":{"x":{"field":"c","type":"nominal","title":"Supernatant groups"},"y":{"field":"lo","type":"quantitative","title":"CFUs/mL"}}},
{"data":{"name":"As"},"mark":{"type":"tick","color":"black","thickness":2,"size":9},"encoding":{"x":{"field":"c","type":"nominal","title":"Supernatant groups"},"y":{"field":"hi","type":"quantitative","title":"CFUs/mL"}}},
{"data":{"name":"Ab"},"mark":{"type":"rule","color":"black","strokeWidth":1.5},"encoding":{"x":{"field":"a","type":"nominal","title":"Supernatant groups"},"x2":{"field":"b"},"y":{"datum":1e10}}},
{"data":{"name":"Ab"},"mark":{"type":"rule","color":"black","strokeWidth":1.5},"encoding":{"x":{"field":"a","type":"nominal","title":"Supernatant groups"},"y":{"datum":1e10},"y2":{"datum":3.5e9}}},
{"data":{"name":"Ab"},"mark":{"type":"rule","color":"black","strokeWidth":1.5},"encoding":{"x":{"field":"b","type":"nominal","title":"Supernatant groups"},"y":{"datum":1e10},"y2":{"datum":3.5e9}}},
{"data":{"name":"Ab"},"mark":{"type":"text","dx":10.6,"dy":-1,"baseline":"bottom","fontSize":22},"encoding":{"x":{"field":"a","type":"nominal","title":"Supernatant groups"},"y":{"datum":1e10},"text":{"field":"s"}}},
{"data":{"name":"Ag"},"mark":{"type":"rule","color":"black","strokeWidth":1.5,"xOffset":-8,"x2Offset":8},"encoding":{"x":{"field":"a","type":"nominal","title":"Supernatant groups"},"x2":{"field":"b"},"y":{"datum":0.9}}},
{"data":{"name":"Ag"},"mark":{"type":"text","dx":10.6,"baseline":"middle","fontSize":13},"encoding":{"x":{"field":"m","type":"nominal","title":"Supernatant groups"},"y":{"datum":0.2},"text":{"field":"t"}}},
{"data":{"name":"Af"},"mark":{"type":"text","dx":14,"align":"left","baseline":"middle","fontSize":14},"encoding":{"x":{"datum":"JJ1886 + FEP, > 50 kDa, +","type":"nominal"},"y":{"datum":6.1},"text":{"field":"t"}}},
{"data":{"name":"Al1"},"mark":{"type":"point","shape":"circle","filled":false,"color":"black","strokeWidth":1.2,"size":230,"xOffset":32},"encoding":{"x":{"datum":"JJ1886 + FEP, > 50 kDa, +","type":"nominal"},"y":{"datum":1.1e7}}},
{"data":{"name":"Al2"},"mark":{"type":"point","shape":"diamond","filled":false,"color":"black","strokeWidth":1.2,"size":230,"xOffset":32},"encoding":{"x":{"datum":"JJ1886 + FEP, > 50 kDa, +","type":"nominal"},"y":{"datum":1.26e6}}},
{"data":{"name":"Al1"},"mark":{"type":"text","dx":44,"align":"left","baseline":"middle","fontSize":14},"encoding":{"x":{"datum":"JJ1886 + FEP, > 50 kDa, +","type":"nominal"},"y":{"datum":1.1e7},"text":{"field":"t"}}},
{"data":{"name":"Al2"},"mark":{"type":"text","dx":44,"align":"left","baseline":"middle","fontSize":14},"encoding":{"x":{"datum":"JJ1886 + FEP, > 50 kDa, +","type":"nominal"},"y":{"datum":1.26e6},"text":{"field":"t"}}}
]}],"spacing":27}],"spacing":-7,"title":{"text":"A)","anchor":"start","frame":"bounds","fontSize":22,"offset":-30}},
{"vconcat":[{"width":1,"height":1,"data":{"name":"pad"},"mark":"text","encoding":{}},{"hconcat":[{"width":1,"height":1,"data":{"name":"pad"},"mark":"text","encoding":{}},{
"width":194,"height":99,
"title":{"text":"Total E. coli in co-culture","offset":13,"dx":10},
"layer":[
{"data":{"name":"B"},"mark":{"type":"point","shape":"circle","filled":false,"color":"black","strokeWidth":1,"size":81},
"encoding":{
"x":{"field":"g","type":"nominal","title":null,"scale":{"domain":["WT","1% Fiber + WT","Δ(YBM)","1% Fiber + Δ(YBM)","ΔB","1% Fiber + ΔB","ΔM","1% Fiber + ΔM","ΔM comp.","1% Fiber + ΔM comp."],"paddingInner":0.2,"paddingOuter":0.2},"axis":{"labelAngle":-90}},
"xOffset":{"field":"r","type":"nominal","scale":{"paddingOuter":1}},
"y":{"field":"v","type":"quantitative","title":"CFUs/mL","scale":{"type":"log","domain":[1e6,1e10]},"axis":{"values":[1e6,1e7,1e8,1e9,1e10],"labelExpr":"'10' + replace(replace(replace(replace(replace(replace(replace(replace(replace(replace(replace('' + round(log(datum.value) / LN10), '-', '⁻'), '0', '⁰'), '1', '¹'), '2', '²'), '3', '³'), '4', '⁴'), '5', '⁵'), '6', '⁶'), '7', '⁷'), '8', '⁸'), '9', '⁹')"}}}},
{"data":{"name":"Bs"},"mark":{"type":"rule","color":"black","strokeWidth":2},"encoding":{"x":{"field":"g","type":"nominal","title":null},"y":{"field":"lo","type":"quantitative","title":"CFUs/mL"},"y2":{"field":"hi"}}},
{"data":{"name":"Bs"},"mark":{"type":"tick","color":"black","thickness":3,"size":17},"encoding":{"x":{"field":"g","type":"nominal","title":null},"y":{"field":"m","type":"quantitative","title":"CFUs/mL"}}},
{"data":{"name":"Bs"},"mark":{"type":"tick","color":"black","thickness":2,"size":7},"encoding":{"x":{"field":"g","type":"nominal","title":null},"y":{"field":"lo","type":"quantitative","title":"CFUs/mL"}}},
{"data":{"name":"Bs"},"mark":{"type":"tick","color":"black","thickness":2,"size":7},"encoding":{"x":{"field":"g","type":"nominal","title":null},"y":{"field":"hi","type":"quantitative","title":"CFUs/mL"}}},
{"data":{"name":"Bb"},"mark":{"type":"rule","color":"black","strokeWidth":1.5},"encoding":{"x":{"field":"a","type":"nominal","title":null},"x2":{"field":"b"},"y":{"datum":6.9e9}}},
{"data":{"name":"Bb"},"mark":{"type":"rule","color":"black","strokeWidth":1.5},"encoding":{"x":{"field":"a","type":"nominal","title":null},"y":{"datum":6.9e9},"y2":{"datum":4e9}}},
{"data":{"name":"Bb"},"mark":{"type":"rule","color":"black","strokeWidth":1.5},"encoding":{"x":{"field":"b","type":"nominal","title":null},"y":{"datum":6.9e9},"y2":{"datum":4e9}}},
{"data":{"name":"Bb"},"mark":{"type":"text","dx":9.45,"dy":1,"baseline":"bottom","fontSize":16},"encoding":{"x":{"field":"a","type":"nominal","title":null},"y":{"datum":6.9e9},"text":{"field":"s"}}}
]}],"spacing":13}],"spacing":-13,"title":{"text":"B)","anchor":"start","frame":"bounds","fontSize":22,"offset":-30}}
],"spacing":10},
{"hconcat":[
{"vconcat":[
{"vconcat":[{"width":1,"height":1,"data":{"name":"pad"},"mark":"text","encoding":{}},{"hconcat":[{"width":1,"height":1,"data":{"name":"pad"},"mark":"text","encoding":{}},{
"width":214,"height":108,
"title":{"text":"E. coli JJ1886 in co-culture","offset":18,"dx":13},
"layer":[
{"data":{"name":"C"},"mark":{"type":"point","shape":"circle","filled":false,"color":"black","strokeWidth":1,"size":81},
"encoding":{
"x":{"field":"g","type":"nominal","title":null,"scale":{"domain":["WT","1% Fiber + WT","Δ(YBM)","1% Fiber + Δ(YBM)","ΔB","1% Fiber + ΔB","ΔM","1% Fiber + ΔM","ΔM comp.","1% Fiber + ΔM comp."],"paddingInner":0.2,"paddingOuter":0.32,"align":0.8},"axis":{"labelAngle":-90}},
"xOffset":{"field":"r","type":"nominal","scale":{"paddingOuter":1}},
"y":{"field":"v","type":"quantitative","title":"CFUs/mL","scale":{"type":"log","domain":[1e6,1e10]},"axis":{"values":[1e6,1e7,1e8,1e9,1e10],"labelExpr":"'10' + replace(replace(replace(replace(replace(replace(replace(replace(replace(replace(replace('' + round(log(datum.value) / LN10), '-', '⁻'), '0', '⁰'), '1', '¹'), '2', '²'), '3', '³'), '4', '⁴'), '5', '⁵'), '6', '⁶'), '7', '⁷'), '8', '⁸'), '9', '⁹')"}}}},
{"data":{"name":"Cs"},"mark":{"type":"rule","color":"black","strokeWidth":2},"encoding":{"x":{"field":"g","type":"nominal","title":null},"y":{"field":"lo","type":"quantitative","title":"CFUs/mL"},"y2":{"field":"hi"}}},
{"data":{"name":"Cs"},"mark":{"type":"tick","color":"black","thickness":3,"size":19},"encoding":{"x":{"field":"g","type":"nominal","title":null},"y":{"field":"m","type":"quantitative","title":"CFUs/mL"}}},
{"data":{"name":"Cs"},"mark":{"type":"tick","color":"black","thickness":2,"size":8},"encoding":{"x":{"field":"g","type":"nominal","title":null},"y":{"field":"lo","type":"quantitative","title":"CFUs/mL"}}},
{"data":{"name":"Cs"},"mark":{"type":"tick","color":"black","thickness":2,"size":8},"encoding":{"x":{"field":"g","type":"nominal","title":null},"y":{"field":"hi","type":"quantitative","title":"CFUs/mL"}}},
{"data":{"name":"Cb"},"mark":{"type":"rule","color":"black","strokeWidth":1.5},"encoding":{"x":{"field":"a","type":"nominal","title":null},"x2":{"field":"b"},"y":{"datum":7.3e9}}},
{"data":{"name":"Cb"},"mark":{"type":"rule","color":"black","strokeWidth":1.5},"encoding":{"x":{"field":"a","type":"nominal","title":null},"y":{"datum":7.3e9},"y2":{"datum":4.6e9}}},
{"data":{"name":"Cb"},"mark":{"type":"rule","color":"black","strokeWidth":1.5},"encoding":{"x":{"field":"b","type":"nominal","title":null},"y":{"datum":7.3e9},"y2":{"datum":4.6e9}}},
{"data":{"name":"Cb"},"mark":{"type":"text","dx":10.25,"dy":1,"baseline":"bottom","fontSize":16},"encoding":{"x":{"field":"a","type":"nominal","title":null},"y":{"datum":7.3e9},"text":{"field":"s"}}}
]}],"spacing":1}],"spacing":0,"title":{"text":"C)","anchor":"start","frame":"bounds","fontSize":22,"offset":-30}},
{"vconcat":[{"width":1,"height":1,"data":{"name":"pad"},"mark":"text","encoding":{}},{"hconcat":[{"width":1,"height":1,"data":{"name":"pad"},"mark":"text","encoding":{}},{
"width":204,"height":102,
"title":{"text":"E. coli NE1 in monoculture","offset":9,"dx":8},
"layer":[
{"data":{"name":"E"},"mark":{"type":"point","shape":"circle","filled":false,"color":"black","strokeWidth":1,"size":81},
"encoding":{
"x":{"field":"g","type":"nominal","title":null,"scale":{"domain":["WT","1% Fiber + WT","Δ(YBM)","1% Fiber + Δ(YBM)","ΔB","1% Fiber + ΔB","ΔM","1% Fiber + ΔM","ΔM comp.","1% Fiber + ΔM comp."],"paddingInner":0.2,"paddingOuter":0.23},"axis":{"labelAngle":-90}},
"xOffset":{"field":"r","type":"nominal","scale":{"paddingOuter":1}},
"y":{"field":"v","type":"quantitative","title":"CFUs/mL","scale":{"type":"log","domain":[1e6,1e10]},"axis":{"values":[1e6,1e7,1e8,1e9,1e10],"labelExpr":"'10' + replace(replace(replace(replace(replace(replace(replace(replace(replace(replace(replace('' + round(log(datum.value) / LN10), '-', '⁻'), '0', '⁰'), '1', '¹'), '2', '²'), '3', '³'), '4', '⁴'), '5', '⁵'), '6', '⁶'), '7', '⁷'), '8', '⁸'), '9', '⁹')"}}}},
{"data":{"name":"Es"},"mark":{"type":"rule","color":"black","strokeWidth":2},"encoding":{"x":{"field":"g","type":"nominal","title":null},"y":{"field":"lo","type":"quantitative","title":"CFUs/mL"},"y2":{"field":"hi"}}},
{"data":{"name":"Es"},"mark":{"type":"tick","color":"black","thickness":3,"size":18},"encoding":{"x":{"field":"g","type":"nominal","title":null},"y":{"field":"m","type":"quantitative","title":"CFUs/mL"}}},
{"data":{"name":"Es"},"mark":{"type":"tick","color":"black","thickness":2,"size":7},"encoding":{"x":{"field":"g","type":"nominal","title":null},"y":{"field":"lo","type":"quantitative","title":"CFUs/mL"}}},
{"data":{"name":"Es"},"mark":{"type":"tick","color":"black","thickness":2,"size":7},"encoding":{"x":{"field":"g","type":"nominal","title":null},"y":{"field":"hi","type":"quantitative","title":"CFUs/mL"}}},
{"data":{"name":"Eb"},"mark":{"type":"rule","color":"black","strokeWidth":1.5},"encoding":{"x":{"field":"a","type":"nominal","title":null},"x2":{"field":"b"},"y":{"datum":1.58e10}}},
{"data":{"name":"Eb"},"mark":{"type":"rule","color":"black","strokeWidth":1.5},"encoding":{"x":{"field":"a","type":"nominal","title":null},"y":{"datum":1.58e10},"y2":{"datum":8.3e9}}},
{"data":{"name":"Eb"},"mark":{"type":"rule","color":"black","strokeWidth":1.5},"encoding":{"x":{"field":"b","type":"nominal","title":null},"y":{"datum":1.58e10},"y2":{"datum":8.3e9}}},
{"data":{"name":"Eb"},"mark":{"type":"text","dx":9.9,"dy":1,"baseline":"bottom","fontSize":16},"encoding":{"x":{"field":"a","type":"nominal","title":null},"y":{"datum":1.58e10},"text":{"field":"s"}}}
]}],"spacing":2}],"spacing":-2,"title":{"text":"E)","anchor":"start","frame":"bounds","fontSize":22,"offset":-30}}
],"spacing":313,"bounds":"flush"},
{"vconcat":[
{"vconcat":[{"width":1,"height":1,"data":{"name":"pad"},"mark":"text","encoding":{}},{"hconcat":[{"width":1,"height":1,"data":{"name":"pad"},"mark":"text","encoding":{}},{
"width":344,"height":148,
"title":{"text":"Ratio of E. coli at 24 hours in co-culture","offset":10},
"layer":[
{"data":{"name":"D"},"mark":{"type":"point","shape":"circle","filled":false,"color":"black","strokeWidth":1,"size":100},
"encoding":{
"x":{"field":"g","type":"nominal","title":null,"scale":{"domain":["WT","1% Fiber + WT","Δ(YBM)","1% Fiber + Δ(YBM)","ΔB","1% Fiber + ΔB","ΔM","1% Fiber + ΔM","ΔM comp.","1% Fiber + ΔM comp."],"paddingInner":0.3,"paddingOuter":0.32},"axis":{"labelAngle":-90}},
"xOffset":{"field":"r","type":"nominal","scale":{"paddingOuter":1}},
"y":{"field":"v","type":"quantitative","title":"Ratio of E. coli JJ1886:total E.coli CFUs","scale":{"type":"log","domain":[0.001,10]},"axis":{"values":[0.001,0.01,0.1,1,10],"titleFontSize":13,"titleAnchor":"end","labelExpr":"'10' + replace(replace(replace(replace(replace(replace(replace(replace(replace(replace(replace('' + round(log(datum.value) / LN10), '-', '⁻'), '0', '⁰'), '1', '¹'), '2', '²'), '3', '³'), '4', '⁴'), '5', '⁵'), '6', '⁶'), '7', '⁷'), '8', '⁸'), '9', '⁹')"}}}},
{"data":{"name":"Ds"},"mark":{"type":"rule","color":"black","strokeWidth":2},"encoding":{"x":{"field":"g","type":"nominal","title":null},"y":{"field":"lo","type":"quantitative","title":"Ratio of E. coli JJ1886:total E.coli CFUs"},"y2":{"field":"hi"}}},
{"data":{"name":"Ds"},"mark":{"type":"tick","color":"black","thickness":3,"size":28},"encoding":{"x":{"field":"g","type":"nominal","title":null},"y":{"field":"m","type":"quantitative","title":"Ratio of E. coli JJ1886:total E.coli CFUs"}}},
{"data":{"name":"Ds"},"mark":{"type":"tick","color":"black","thickness":2,"size":11},"encoding":{"x":{"field":"g","type":"nominal","title":null},"y":{"field":"lo","type":"quantitative","title":"Ratio of E. coli JJ1886:total E.coli CFUs"}}},
{"data":{"name":"Ds"},"mark":{"type":"tick","color":"black","thickness":2,"size":11},"encoding":{"x":{"field":"g","type":"nominal","title":null},"y":{"field":"hi","type":"quantitative","title":"Ratio of E. coli JJ1886:total E.coli CFUs"}}},
{"data":{"name":"Db"},"mark":{"type":"rule","color":"black","strokeWidth":1.5},"encoding":{"x":{"field":"a","type":"nominal","title":null},"x2":{"field":"b"},"y":{"datum":3.5}}},
{"data":{"name":"Db"},"mark":{"type":"rule","color":"black","strokeWidth":1.5},"encoding":{"x":{"field":"a","type":"nominal","title":null},"y":{"datum":3.5},"y2":{"datum":2.2}}},
{"data":{"name":"Db"},"mark":{"type":"rule","color":"black","strokeWidth":1.5},"encoding":{"x":{"field":"b","type":"nominal","title":null},"y":{"datum":3.5},"y2":{"datum":2.2}}},
{"data":{"name":"Db"},"mark":{"type":"text","dx":16.6,"dy":1,"baseline":"bottom","fontSize":16},"encoding":{"x":{"field":"a","type":"nominal","title":null},"y":{"datum":3.5},"text":{"field":"s"}}}
]}],"spacing":2}],"spacing":11,"title":{"text":"D)","anchor":"start","frame":"bounds","fontSize":22,"offset":-32}},
{"vconcat":[{"width":1,"height":1,"data":{"name":"pad"},"mark":"text","encoding":{}},{"hconcat":[{"width":1,"height":1,"data":{"name":"pad"},"mark":"text","encoding":{}},{
"width":71,"height":100,
"title":{"text":["E. coli JJ1886","in monoculture"],"offset":18,"lineHeight":15},
"layer":[
{"data":{"name":"F"},"mark":{"type":"point","shape":"circle","filled":false,"color":"black","strokeWidth":1,"size":81},
"encoding":{
"x":{"field":"g","type":"nominal","title":null,"scale":{"domain":["No Fiber","1% Acacia Fiber"],"paddingInner":0.3,"paddingOuter":0.25,"align":0.62},"axis":{"labelAngle":-90,"labelFontSize":14}},
"xOffset":{"field":"r","type":"nominal","scale":{"paddingOuter":1}},
"y":{"field":"v","type":"quantitative","title":"CFUs/mL","scale":{"type":"log","domain":[1e6,1e10]},"axis":{"values":[1e6,1e7,1e8,1e9,1e10],"titlePadding":8,"labelExpr":"'10' + replace(replace(replace(replace(replace(replace(replace(replace(replace(replace(replace('' + round(log(datum.value) / LN10), '-', '⁻'), '0', '⁰'), '1', '¹'), '2', '²'), '3', '³'), '4', '⁴'), '5', '⁵'), '6', '⁶'), '7', '⁷'), '8', '⁸'), '9', '⁹')"}}}},
{"data":{"name":"Fs"},"mark":{"type":"rule","color":"black","strokeWidth":2},"encoding":{"x":{"field":"g","type":"nominal","title":null},"y":{"field":"lo","type":"quantitative","title":"CFUs/mL"},"y2":{"field":"hi"}}},
{"data":{"name":"Fs"},"mark":{"type":"tick","color":"black","thickness":3,"size":24},"encoding":{"x":{"field":"g","type":"nominal","title":null},"y":{"field":"m","type":"quantitative","title":"CFUs/mL"}}},
{"data":{"name":"Fs"},"mark":{"type":"tick","color":"black","thickness":2,"size":9},"encoding":{"x":{"field":"g","type":"nominal","title":null},"y":{"field":"lo","type":"quantitative","title":"CFUs/mL"}}},
{"data":{"name":"Fs"},"mark":{"type":"tick","color":"black","thickness":2,"size":9},"encoding":{"x":{"field":"g","type":"nominal","title":null},"y":{"field":"hi","type":"quantitative","title":"CFUs/mL"}}}
]}],"spacing":4}],"spacing":-2,"title":{"text":"F)","anchor":"start","frame":"bounds","fontSize":22,"offset":-34}}
],"spacing":313,"bounds":"flush"}
],"spacing":11}
],
"spacing":257,
"bounds":"flush"
}
